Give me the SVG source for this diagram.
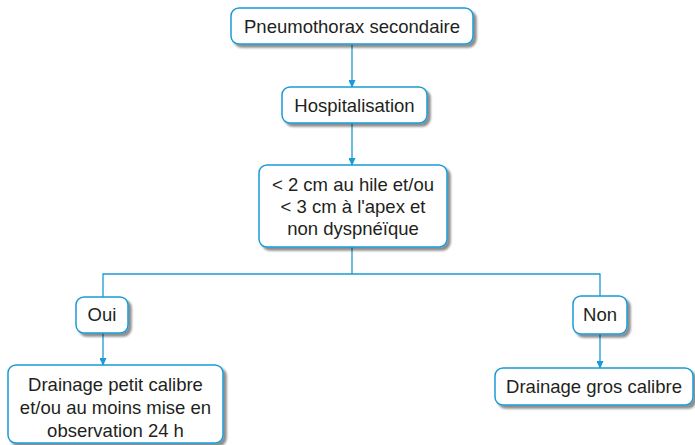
<svg xmlns="http://www.w3.org/2000/svg" width="695" height="445" viewBox="0 0 695 445">
  <defs>
    <marker id="arrow" markerWidth="8" markerHeight="7" refX="7" refY="3.5" orient="auto" markerUnits="userSpaceOnUse">
      <path d="M0,0 L8,3.5 L0,7 Z" fill="#1a9ad6"/>
    </marker>
    <filter id="shadow" x="-10%" y="-10%" width="130%" height="140%">
      <feGaussianBlur in="SourceAlpha" stdDeviation="1"/>
      <feOffset dx="3" dy="3" result="off"/>
      <feComponentTransfer><feFuncA type="linear" slope="0.45"/></feComponentTransfer>
      <feMerge><feMergeNode/><feMergeNode in="SourceGraphic"/></feMerge>
    </filter>
  </defs>
  <style>
    .box { fill: #ffffff; stroke: #1a9ad6; stroke-width: 1.5; filter: url(#shadow); }
    .lbl { font-family: "Liberation Sans", Arial, sans-serif; font-size: 18.5px; fill: #231f20; text-anchor: middle; }
    .conn { stroke: #1a9ad6; stroke-width: 1.3; fill: none; }
  </style>
  <rect width="695" height="445" fill="#ffffff"/>

  <g id="connectors">
    <line class="conn" x1="352" y1="44" x2="352" y2="87" marker-end="url(#arrow)"/>
    <line class="conn" x1="352" y1="123" x2="352" y2="165" marker-end="url(#arrow)"/>
    <line class="conn" x1="352" y1="247" x2="352" y2="274"/>
    <polyline class="conn" points="103,297 103,274 600,274 600,296"/>
    <line class="conn" x1="103" y1="333" x2="103" y2="365" marker-end="url(#arrow)"/>
    <line class="conn" x1="600" y1="334" x2="600" y2="368" marker-end="url(#arrow)"/>
  </g>

  <g id="node-pneumothorax">
    <rect class="box" x="231" y="8" width="242" height="36" rx="8"/>
    <text class="lbl" x="352" y="33">Pneumothorax secondaire</text>
  </g>

  <g id="node-hospitalisation">
    <rect class="box" x="282" y="87" width="145" height="36" rx="8"/>
    <text class="lbl" x="354.5" y="112">Hospitalisation</text>
  </g>

  <g id="node-criteres">
    <rect class="box" x="259" y="165" width="188" height="82" rx="8"/>
    <text class="lbl" x="353" y="191">&lt; 2 cm au hile et/ou</text>
    <text class="lbl" x="353" y="213">&lt; 3 cm à l'apex et</text>
    <text class="lbl" x="353" y="235">non dyspnéïque</text>
  </g>

  <g id="node-oui">
    <rect class="box" x="76" y="297" width="52" height="36" rx="8"/>
    <text class="lbl" x="102" y="321">Oui</text>
  </g>

  <g id="node-non">
    <rect class="box" x="573" y="296" width="54" height="38" rx="8"/>
    <text class="lbl" x="600" y="321">Non</text>
  </g>

  <g id="node-drainage-petit">
    <rect class="box" x="8" y="365" width="215" height="78" rx="8"/>
    <text class="lbl" x="115.5" y="391">Drainage petit calibre</text>
    <text class="lbl" x="115.5" y="414">et/ou au moins mise en</text>
    <text class="lbl" x="115.5" y="437">observation 24 h</text>
  </g>

  <g id="node-drainage-gros">
    <rect class="box" x="495" y="368" width="198" height="37" rx="8"/>
    <text class="lbl" x="594" y="393">Drainage gros calibre</text>
  </g>
</svg>
